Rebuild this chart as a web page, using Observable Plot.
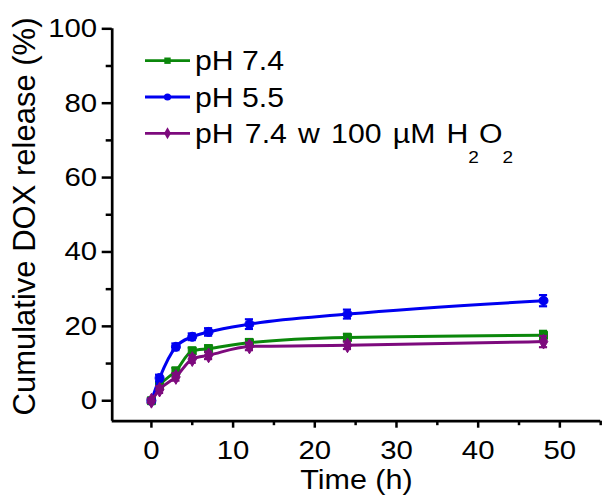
<!DOCTYPE html>
<html><head><meta charset="utf-8">
<script src="https://cdn.jsdelivr.net/npm/d3@7"></script>
<script src="https://cdn.jsdelivr.net/npm/@observablehq/plot@0.6"></script>
<style>
html,body{margin:0;padding:0;background:#fff;}
#chart svg{display:block;}
</style>
</head><body><div id="chart"></div>
<script>
// ---- data ----
const time = [0, 1, 3, 5, 7, 12, 24, 48];
const ph74 = [0, 4.0, 8.0, 13.4, 14.0, 15.6, 17.0, 17.6];
const ph74Err = [0.5, 0.8, 0.9, 0.9, 0.9, 1.0, 1.0, 1.2];
const ph55 = [0, 6.1, 14.5, 17.2, 18.5, 20.6, 23.3, 26.9];
const ph55Err = [0.5, 0.9, 0.9, 0.9, 1.0, 1.3, 1.2, 1.5];
const ph74h = [0, 3.0, 6.4, 11.2, 12.2, 14.6, 14.9, 15.9];
const ph74hErr = [0.6, 0.9, 1.0, 1.0, 1.0, 1.0, 1.0, 1.5];
const seriesNames = ["pH 7.4", "pH 5.5", "pH 7.4 w 100 µM H2O2"];
const seriesColors = ["#0b870b", "#0000f0", "#7d0a7d"];
const seriesSymbols = ["square", "circle", "diamond"];
const xMajor = [0, 10, 20, 30, 40, 50];
const xMinor = [5, 15, 25, 35, 45, 55];
const yMajor = [0, 20, 40, 60, 80, 100];
const yMinor = [10, 30, 50, 70, 90];
const xTitle = "Time (h)";
const yTitle = "Cumulative DOX release (%)";

const xDomain = [-4.8, 55];
const yDomain = [-5.5, 100];

const allValues = [ph74, ph55, ph74h];
const allErrs = [ph74Err, ph55Err, ph74hErr];
const rows = [];
allValues.forEach((vals, i) => {
  time.forEach((t, j) => rows.push({s: i, t, v: vals[j], e: allErrs[i][j]}));
});

const FONT = "'Liberation Sans', Arial, Helvetica, sans-serif";
const capHalf = 0.5;

const seriesMarks = [];
[0, 1, 2].forEach(i => {
  const d = rows.filter(r => r.s === i);
  const c = seriesColors[i];
  seriesMarks.push(
    Plot.line(d, {x: "t", y: "v", stroke: c, strokeWidth: 3, curve: "monotone-x"}),
    Plot.ruleX(d, {x: "t", y1: r => r.v - r.e, y2: r => r.v + r.e, stroke: c, strokeWidth: 2.2}),
    Plot.ruleY(d, {y: r => r.v + r.e, x1: r => r.t - capHalf, x2: r => r.t + capHalf, stroke: c, strokeWidth: 2.2}),
    Plot.ruleY(d, {y: r => r.v - r.e, x1: r => r.t - capHalf, x2: r => r.t + capHalf, stroke: c, strokeWidth: 2.2}),
    Plot.dot(d, {x: "t", y: "v", symbol: () => seriesSymbols[i], fill: c, stroke: c, strokeWidth: 1, r: 4.5})
  );
});

const plot = Plot.plot({
  width: 603,
  height: 499,
  marginLeft: 111.7,
  marginRight: 2.8,
  marginTop: 28.3,
  marginBottom: 78.3,
  style: {fontFamily: FONT, fontSize: "26px", color: "#000", background: "#fff"},
  x: {domain: xDomain, axis: null},
  y: {domain: yDomain, axis: null},
  marks: [
    Plot.axisY(yMajor, {tickSize: 10, tickPadding: 5, strokeWidth: 2.5, label: null, tickFormat: d => String(d)}),
    Plot.axisY(yMinor, {tickSize: 6, strokeWidth: 2.5, label: null, tickFormat: () => ""}),
    Plot.axisX(xMajor, {tickSize: 7, tickPadding: 12, strokeWidth: 2.5, label: null, tickFormat: d => String(d)}),
    Plot.axisX(xMinor, {tickSize: 4.5, strokeWidth: 2.5, label: null, tickFormat: () => ""}),
    Plot.ruleX([xDomain[0]], {stroke: "#000", strokeWidth: 2.7}),
    Plot.ruleY([yDomain[0]], {stroke: "#000", strokeWidth: 2.7}),
    ...seriesMarks,
    Plot.text([xTitle], {frameAnchor: "bottom", textAnchor: "middle", lineAnchor: "middle", dy: 58.6, fontSize: 28, fill: "#000"}),
    Plot.text([yTitle], {frameAnchor: "left", textAnchor: "middle", lineAnchor: "middle", rotate: -90, dx: -86.7, dy: -8.5, fontSize: 31, fill: "#000"})
  ]
});

document.getElementById("chart").appendChild(plot);
const svg = d3.select(plot);

// horizontal stretch of the reference lettering
function stretch(sel, k) {
  sel.each(function() {
    const tr = this.getAttribute("transform") || "";
    const x = +this.getAttribute("x") || 0;
    const y = +this.getAttribute("y") || 0;
    if (x || y) { this.removeAttribute("x"); this.removeAttribute("y"); }
    this.setAttribute("transform", `${tr} translate(${x},${y}) scale(${k},1)`);
  });
}
stretch(svg.selectAll('g[aria-label$="tick label"] text'), 1.13);
stretch(svg.selectAll('g[aria-label="text"] text').filter(function() { return this.textContent === xTitle; }), 1.09);

// ---- legend ----
const lg = svg.append("g").attr("font-family", FONT).attr("font-size", 27).attr("text-anchor", "start");
const legX0 = 145, legX1 = 190, legTop = 60.7, legStep = 36.3, legTextX = 195;
seriesNames.forEach((name, i) => {
  const y = legTop + i * legStep;
  const c = seriesColors[i];
  lg.append("line").attr("x1", legX0).attr("x2", legX1).attr("y1", y).attr("y2", y)
    .attr("stroke", c).attr("stroke-width", 2.8);
  const symType = {square: d3.symbolSquare, circle: d3.symbolCircle, diamond: d3.symbolDiamond}[seriesSymbols[i]];
  lg.append("path").attr("d", d3.symbol(symType, Math.PI * 3.6 * 3.6)())
    .attr("transform", `translate(${(legX0 + legX1) / 2},${y})`).attr("fill", c);
  const t = lg.append("text").attr("fill", "#000").attr("text-anchor", "start")
    .attr("transform", `translate(${legTextX},${y + 9.6}) scale(1.12,1)`);
  const m = name.match(/^(.*H)2O2$/);
  if (m) {
    t.attr("word-spacing", 2.5);
    t.append("tspan").text(m[1]);
    t.append("tspan").attr("font-size", 17).attr("dy", 20).text("2");
    t.append("tspan").attr("dy", -20).text("O");
    t.append("tspan").attr("font-size", 17).attr("dy", 20).text("2");
  } else {
    t.text(name);
  }
});
</script>
</body></html>
